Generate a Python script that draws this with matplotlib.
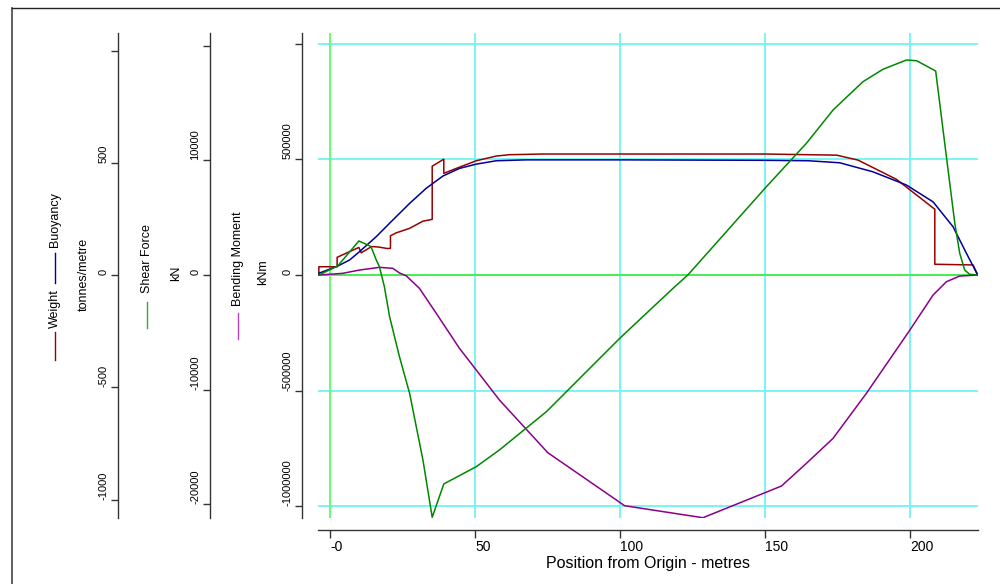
import matplotlib
matplotlib.use("Agg")
import matplotlib.pyplot as plt
from matplotlib.lines import Line2D

# ---------------------------------------------------------------------------
# Data (x in metres from origin)
# ---------------------------------------------------------------------------
weight_x = [-4.0, -4.0, 2.3, 2.3, 9.8, 10.6, 14.2, 16.5, 19.7, 20.7, 20.7, 22.7,
            27.3, 31.9, 35.1, 35.1, 39.1, 39.1, 43.4, 50.3, 57.2, 61.8, 73.2,
            100.0, 150.0, 174.6, 182.0, 195.3, 208.5, 208.5, 221.7, 223.3]
weight_t = [0, 37, 37, 79, 123, 99, 127, 125, 118, 119, 175, 188,
            208, 240, 248, 485, 516, 453, 475, 509, 530, 536, 539,
            539, 539, 534, 512, 426, 293, 48, 45, 0]

buoy_x = [-4.0, 2.5, 6.6, 10.0, 15.8, 21.5, 27.3, 33.0, 38.8, 44.5, 50.3, 57.2,
          67.6, 100.0, 150.0, 165.0, 175.7, 187.1, 198.7, 207.9, 214.8, 219.4, 223.3]
buoy_t = [8, 40, 67, 104, 171, 245, 319, 386, 441, 475, 494, 509,
          513, 513, 511, 509, 500, 460, 401, 326, 215, 97, 0]

shear_x = [-4.0, 2.5, 9.8, 12.9, 14.0, 15.8, 16.9, 18.6, 20.4, 23.8, 27.3, 31.9,
           35.1, 39.1, 50.3, 58.3, 74.5, 99.8, 118.2, 123.3, 150.4, 164.2, 173.4,
           183.7, 190.6, 198.7, 202.2, 208.8, 212.5, 215.4, 217.1, 218.8, 220.5, 223.3]
shear_kn = [0, 784, 2963, 2614, 2466, 1307, 723, -1020, -3634, -7120, -10309, -16122,
            -21115, -18213, -16706, -15250, -11913, -5520, -1160, 0, 7695, 11477, 14379,
            16845, 17926, 18736, 18675, 17778, 10309, 4505, 1891, 436, 61, 0]

bend_x = [-4.0, 4.2, 10.0, 16.9, 21.5, 23.8, 26.1, 30.7, 36.5, 44.5, 50.3, 58.3,
          75.0, 101.5, 128.5, 155.6, 164.2, 173.4, 184.9, 199.9, 207.9, 212.5, 217.1, 223.3]
bend_knm = [0, 7300, 21600, 33300, 29000, 9000, -3000, -57500, -165500, -316800, -410500, -540200,
            -768000, -997000, -1048800, -911800, -813800, -705700, -511200, -237700, -86400,
            -28900, -4300, 0]

x_ticks = [0, 50, 100, 150, 200]
x_labels = ["-0", "50", "100", "150", "200"]
t_ticks = [-1000, -500, 0, 500, 1000]
t_labels = ["-1000", "-500", "0", "500", ""]
kn_ticks = [-20000, -10000, 0, 10000, 20000]
kn_labels = ["-20000", "-10000", "0", "10000", ""]
knm_ticks = [-1000000, -500000, 0, 500000, 1000000]
knm_labels = ["-1000000", "-500000", "0", "500000", ""]

# ---------------------------------------------------------------------------
W, H = 1000, 584
plt.rcParams["font.family"] = ["Liberation Sans", "DejaVu Sans"]

C_W, C_B, C_S, C_M = "#990000", "#000099", "#008800", "#8b008b"
C_GRID, C_ZERO, C_AX = "#6ef4f4", "#44ee44", "#333333"

fig = plt.figure(figsize=(W / 100, H / 100), dpi=100)
ax = fig.add_axes([318 / W, 1 - 518 / H, 660 / W, 485 / H])
ax_t = ax.twinx()
ax_s = ax.twinx()

ax.set_xlim(-4.3, 223.4)
ax.set_ylim(-1050000, 1046000)
ax_t.set_ylim(-1082, 1078)
ax_s.set_ylim(-21180, 21090)

# grid and zero lines on the main axes
ax.set_axisbelow(True)
ax.grid(True, color=C_GRID, linewidth=1.3)
ax.axhline(0, color=C_ZERO, linewidth=1.3, zorder=1)
ax.axvline(0, color="#66ff66", linewidth=1.3, zorder=1)

# curves
ax.plot(bend_x, bend_knm, color=C_M, linewidth=1.1, zorder=3)
ax_s.plot(shear_x, shear_kn, color=C_S, linewidth=1.1)
ax_t.plot(weight_x, weight_t, color=C_W, linewidth=1.1)
ax_t.plot(buoy_x, buoy_t, color=C_B, linewidth=1.1)

# x axis
for sp in ["top", "right"]:
    ax.spines[sp].set_visible(False)
ax.spines["bottom"].set_position(("outward", 8.6))
ax.spines["left"].set_position(("outward", 11.5))
for sp in ["bottom", "left"]:
    ax.spines[sp].set_color(C_AX)
    ax.spines[sp].set_linewidth(1.0)
ax.set_xticks(x_ticks)
ax.set_xticklabels(x_labels)
for lab in ax.get_xticklabels():
    lab.set_ha("left")
ax.tick_params(axis="x", length=6, width=1, color=C_AX, labelsize=10, pad=1)
ax.set_xlabel("Position from Origin - metres", fontsize=11.5, labelpad=2)

# the three left y axes
for a, ticks, labels, off in [(ax, knm_ticks, knm_labels, 11.5),
                              (ax_s, kn_ticks, kn_labels, 77.8),
                              (ax_t, t_ticks, t_labels, 144)]:
    if a is not ax:
        for sp in ["top", "right", "bottom"]:
            a.spines[sp].set_visible(False)
        a.spines["left"].set_visible(True)
        a.spines["left"].set_position(("outward", off))
        a.spines["left"].set_color(C_AX)
        a.spines["left"].set_linewidth(1.0)
        a.yaxis.tick_left()
    a.set_yticks(ticks)
    a.set_yticklabels(labels)
    a.tick_params(axis="y", length=5, width=1, color=C_AX, labelsize=8,
                  labelrotation=90, pad=2)
    for lab in a.get_yticklabels():
        lab.set_va("bottom")

# rotated legend / unit captions
def vtext(x, y, s):
    fig.text(x / W, 1 - y / H, s, rotation=90, ha="center", va="center",
             fontsize=9)

def vdash(x, y0, y1, c):
    fig.add_artist(Line2D([x / W, x / W], [1 - y0 / H, 1 - y1 / H],
                          transform=fig.transFigure, color=c, linewidth=1.0))

vdash(55, 360, 332, C_W)
vtext(55, 309, "Weight")
vdash(55, 283, 253, C_B)
vtext(55, 220, "Buoyancy")
vtext(84, 274, "tonnes/metre")
vdash(147, 328, 302, "#33aa33")
vtext(147, 259, "Shear Force")
vtext(176, 273, "kN")
vdash(238, 339, 313, "#bb44bb")
vtext(238, 259, "Bending Moment")
vtext(263, 272, "kNm")

# page frame
fig.add_artist(Line2D([12 / W, 12 / W], [0, 1 - 8 / H], transform=fig.transFigure,
                      color="#444444", linewidth=1.2))
fig.add_artist(Line2D([12 / W, 1], [1 - 8 / H, 1 - 8 / H], transform=fig.transFigure,
                      color="#222222", linewidth=1.0))

fig.savefig("out.png", dpi=100)
